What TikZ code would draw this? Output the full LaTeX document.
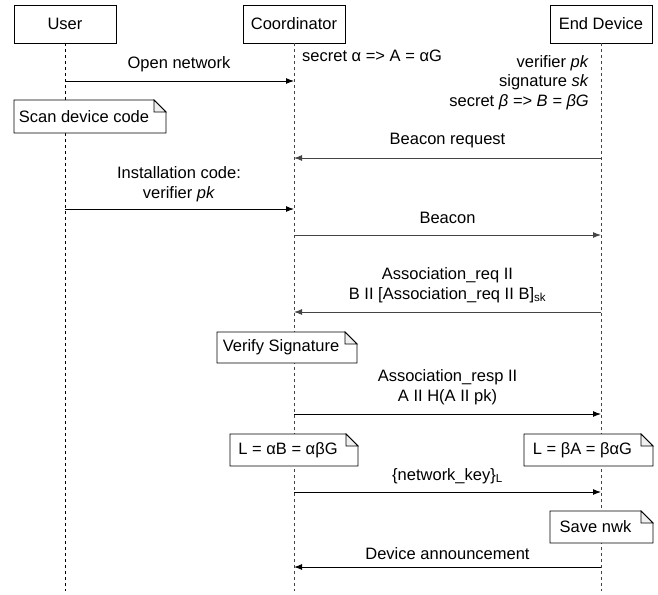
\documentclass[tikz,border=0pt]{standalone}
\usepackage{fontspec}
\setmainfont{Liberation Sans}
\usetikzlibrary{arrows.meta}
\definecolor{dk}{HTML}{444444}
\tikzset{
  actor/.style={draw=black, line width=0.8pt, minimum width=102pt, minimum height=38pt, inner sep=0pt},
  lifeline/.style={draw=black, line width=0.8pt, dash pattern=on 3pt off 3pt},
  msg/.style={line width=1pt, -{Latex[length=8pt,width=6pt]}},
  msgg/.style={msg, draw=dk},
  lbl/.style={anchor=base, inner sep=0pt, align=center},
  notebox/.style={draw=black, line width=0.8pt, fill=white},
  notefold/.style={draw=black, line width=0.8pt, fill=gray!12},
}
\newcommand{\notedraw}[5]{% name, x1, y1, x2, y2 ; text drawn separately
  \path[notebox] (#2,#3) -- ({#4-12},#3) -- (#4,{#3+12}) -- (#4,#5) -- (#2,#5) -- cycle;
  \path[notefold] ({#4-12},#3) -- ({#4-12},{#3+12}) -- (#4,{#3+12}) -- cycle;
  \coordinate (#1) at ({(#2+#4-12)/2},{(#3+#5)/2});
}
\begin{document}
\begin{tikzpicture}[x=1pt,y=-1pt,font=\fontsize{16.5}{20}\selectfont]
\useasboundingbox (0,0) rectangle (658,594);
% actors
\node[actor] (user) at (65,24) {User};
\node[actor] (coord) at (294,24) {Coordinator};
\node[actor] (dev) at (601,24) {End Device};
\coordinate (userend) at (65,591);
\coordinate (coordend) at (294,591);
\coordinate (devend) at (601,591);
\draw[lifeline] (user.south) -- (userend);
\draw[lifeline, draw=dk] (coord.south) -- (coordend);
\draw[lifeline, draw=dk] (dev.south) -- (devend);

% lifeline anchor coordinates
\foreach \n/\y in {a/81,b/158,c/209,d/235,e/312,f/414,g/492,h/567}{
  \coordinate (u\n) at (65,\y);
  \coordinate (c\n) at (294,\y);
  \coordinate (d\n) at (601,\y);
}

% Open network
\draw[msg] (ua) -- (ca);
\node[lbl] (l1) at (179,68) {Open network};
\node[anchor=base west, inner sep=0pt] (sa) at (302,61) {secret α => A = αG};
\node[anchor=base east, inner sep=0pt] (v1) at (589,67) {verifier \textit{pk}};
\node[anchor=base east, inner sep=0pt] (v2) at (589,86) {signature \textit{sk}};
\node[anchor=base east, inner sep=0pt] (v3) at (589,106) {secret \textit{β => B = βG}};

% Scan device code note
\notedraw{n1}{14}{100}{166}{133}
\node[inner sep=0pt] (n1t) at (n1) {Scan device code};

% Beacon request
\draw[msgg] (db) -- (cb);
\node[lbl] (l2) at (447.5,144) {Beacon request};

% Installation code
\draw[msg] (uc) -- (cc);
\node[lbl] (l3a) at (179,178) {Installation code:};
\node[lbl] (l3b) at (179,198) {verifier \textit{pk}};

% Beacon
\draw[msgg] (cd) -- (dd);
\node[lbl] (l4) at (447.5,223) {Beacon};

% Association request
\draw[msgg] (de) -- (ce);
\node[lbl] (l5a) at (447.5,279) {Association\_req II};
\node[lbl] (l5b) at (447.5,299) {B II [Association\_req II B]\textsubscript{sk}};

% Verify signature
\notedraw{n2}{217}{332}{357}{363}
\node[inner sep=0pt] (n2t) at (n2) {Verify Signature};

% Association response
\draw[msg] (cf) -- (df);
\node[lbl] (l6a) at (447.5,381) {Association\_resp II};
\node[lbl] (l6b) at (447.5,401) {A II H(A II pk)};

% L notes
\notedraw{n3}{230}{434}{358}{466}
\node[inner sep=0pt] (n3t) at (n3) {L = αB = αβG};
\notedraw{n4}{524}{434}{653}{466}
\node[inner sep=0pt] (n4t) at (n4) {L = βA = βαG};

% network key
\draw[msg] (cg) -- (dg);
\node[lbl] (l7) at (447.5,480) {\{network\_key\}\textsubscript{L}};

% Save nwk
\notedraw{n5}{550}{511}{653}{543}
\node[inner sep=0pt] (n5t) at (n5) {Save nwk};

% Device announcement
\draw[msg] (dh) -- (ch);
\node[lbl] (l8) at (447.5,559) {Device announcement};
\end{tikzpicture}
\end{document}
